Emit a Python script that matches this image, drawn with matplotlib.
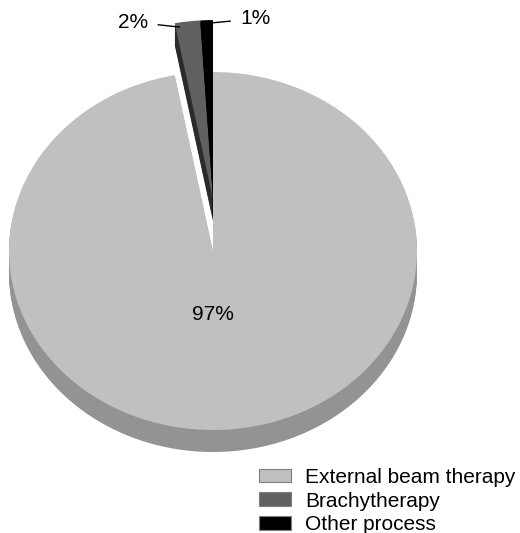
import numpy as np
import matplotlib.pyplot as plt

plt.rcParams['font.family'] = ['Liberation Sans', 'DejaVu Sans']

# treatment share (%)
labels = ['External beam therapy', 'Brachytherapy', 'Other process']
shares = [97, 2, 1]

top_colors = ['#c0c0c0', '#606060', '#000000']
side_colors = ['#939393', '#2b2b2b', '#000000']
lift = [0, 0.29, 0.29]      # small slices pulled out towards the back
depth = 0.123               # thickness of the disc, in y data units

fig = plt.figure(figsize=(5.2, 5.33), dpi=100)
ax = fig.add_axes([0, 0, 1, 1])


def draw_layer(drop, colors, **kw):
    out = ax.pie(shares, colors=colors, startangle=90, counterclock=False,
                 center=(0, -drop), wedgeprops=dict(linewidth=0), **kw)
    for w, up in zip(out[0], lift):
        cx, cy = w.center
        w.set_center((cx, cy + up))
    return out


# stack of darker copies makes the side wall of the disc
for drop in np.linspace(depth, 0, 14)[:-1]:
    draw_layer(drop, side_colors)

wedges, texts, autotexts = draw_layer(
    0, top_colors,
    autopct=lambda p: '%.0f%%' % p if p > 50 else '',
    pctdistance=0.355, textprops=dict(fontsize=15, color='black'))
autotexts[0].set_x(wedges[0].center[0])

# outside labels with leader lines for the thin slices
def wedge_point(w, frac, rad):
    ang = np.radians(w.theta1 + frac * (w.theta2 - w.theta1))
    cx, cy = w.center
    return cx + rad * w.r * np.cos(ang), cy + rad * w.r * np.sin(ang)

ax.annotate('%d%%' % shares[1], xy=wedge_point(wedges[1], 0.85, 0.975),
            xytext=(-31, 5), textcoords='offset pixels', ha='right', va='center',
            fontsize=15,
            arrowprops=dict(arrowstyle='-', color='black', lw=1, shrinkA=5, shrinkB=0))
ax.annotate('%d%%' % shares[2], xy=wedge_point(wedges[2], 0.0, 0.985),
            xytext=(27, 4), textcoords='offset pixels', ha='left', va='center',
            fontsize=15,
            arrowprops=dict(arrowstyle='-', color='black', lw=1, shrinkA=5, shrinkB=0))

ax.set_aspect('auto')
ax.set_xlim(-213 / 204, (520 - 213) / 204)
ax.set_ylim(-(533 - 251) / 179, 251 / 179)
ax.axis('off')

leg = fig.legend(wedges, labels, loc='lower right', bbox_to_anchor=(1.0, -0.01),
                 frameon=False, fontsize=15, handlelength=1.52, handleheight=0.62,
                 handletextpad=0.7, labelspacing=0.22, borderpad=0.1,
                 borderaxespad=0.1)
for h in leg.get_patches():
    h.set_edgecolor('#808080')
    h.set_linewidth(0.8)

fig.savefig('out.png', dpi=100)
